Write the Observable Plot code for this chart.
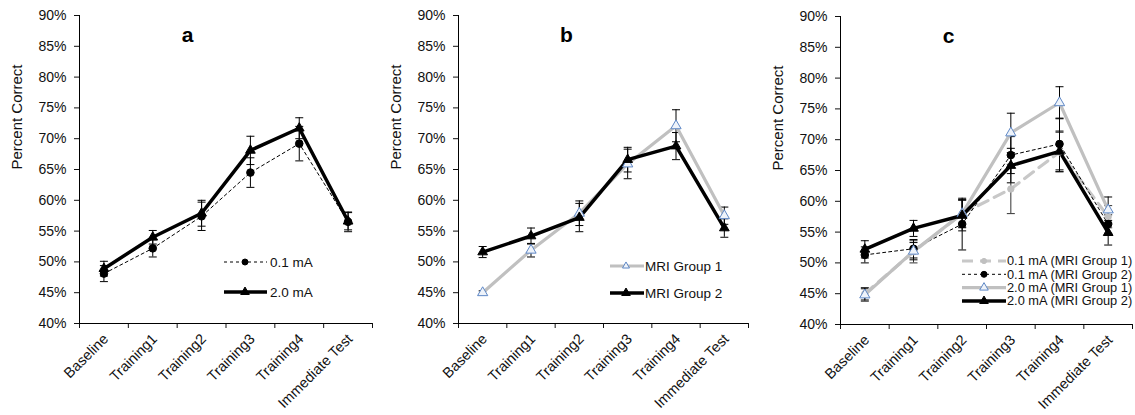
<!DOCTYPE html>
<html>
<head>
<meta charset="utf-8">
<script src="https://cdn.jsdelivr.net/npm/d3@7"></script>
<script src="https://cdn.jsdelivr.net/npm/@observablehq/plot@0.6"></script>
<style>
  html, body { margin: 0; padding: 0; background: #fff; }
  #wrap { position: relative; width: 1135px; height: 415px; overflow: hidden; font-family: "Liberation Sans", Arial, sans-serif; }
  .panel { position: absolute; top: 0; }
  .legend { position: absolute; left: 0; top: 0; overflow: visible; }
</style>
</head>
<body>
<div id="wrap"></div>
<script>
// ---------- data ----------
const categories = ["Baseline", "Training1", "Training2", "Training3", "Training4", "Immediate Test"];
const yTicks = [40, 45, 50, 55, 60, 65, 70, 75, 80, 85, 90];

// Panel a
const a_01mA = [48.1, 52.2, 57.4, 64.5, 69.2, 56.5];
const a_01mA_err = [1.3, 1.4, 2.3, 2.4, 2.8, 1.6];
const a_20mA = [48.9, 54.0, 57.9, 68.1, 71.7, 56.6];
const a_20mA_err = [1.2, 1.1, 2.1, 2.3, 1.7, 1.4];

// Panel b
const b_group1 = [45.0, 51.9, 57.9, 65.9, 72.1, 57.5];
const b_group1_err = [0.3, 1.1, 2.0, 2.4, 2.6, 1.4];
const b_group2 = [51.6, 54.2, 57.2, 66.6, 68.8, 55.5];
const b_group2_err = [0.9, 1.3, 2.3, 2.0, 2.2, 1.5];

// Panel c
const c_01mA_g1 = [45.0, 51.8, 58.0, 62.0, 68.0, 57.5];
const c_01mA_g1_err = [1.0, 1.8, 2.3, 4.0, 3.2, 1.8];
const c_01mA_g2 = [51.3, 52.3, 56.3, 67.5, 69.3, 56.3];
const c_01mA_g2_err = [1.3, 1.5, 4.2, 3.0, 4.2, 1.5];
const c_20mA_g1 = [44.8, 51.9, 58.0, 71.1, 76.0, 58.6];
const c_20mA_g1_err = [1.0, 1.4, 2.2, 3.2, 2.6, 2.1];
const c_20mA_g2 = [52.2, 55.6, 57.7, 65.8, 68.1, 54.9];
const c_20mA_g2_err = [1.4, 1.3, 2.5, 2.8, 3.3, 2.0];

// ---------- styles ----------
const FONT = '"Liberation Sans", Arial, sans-serif';
const S = {
  solidBlack: {stroke: "#000", strokeWidth: 3.5, dash: null, symbol: "triangle", fill: "#000", mstroke: "#000", r: 3.6},
  dashBlack: {stroke: "#000", strokeWidth: 1, dash: "3,3", symbol: "circle", fill: "#000", mstroke: "#000", r: 3.8},
  solidGray: {stroke: "#c0c0c0", strokeWidth: 3.2, dash: null, symbol: "triangle", fill: "#eef3fa", mstroke: "#5f88c6", r: 3.8},
  dashGray: {stroke: "#c8c8c8", strokeWidth: 3.2, dash: "11,7", symbol: "circle", fill: "#c0c0c0", mstroke: "#c0c0c0", r: 3.2}
};

const cap = {draw(context) { context.moveTo(-4, 0); context.lineTo(4, 0); }};

function rows(values, errs) {
  return categories.map((c, i) => ({x: i + 0.5, cat: c, v: values[i], lo: values[i] - errs[i], hi: values[i] + errs[i]}));
}

function panel({left, width, marginLeft, marginRight, marginTop, marginBottom, title, series}) {
  const height = 415;
  const errMarks = [];
  const lineMarks = [];
  for (const s of series) {
    const d = rows(s.values, s.errs);
    const st = s.style;
    errMarks.push(
      Plot.ruleX(d, {x: "x", y1: "lo", y2: "hi", stroke: s.errColor || "#000", strokeWidth: 1}),
      Plot.dot(d, {x: "x", y: "lo", symbol: cap, r: 4, stroke: s.errColor || "#000", fill: "none", strokeWidth: 1}),
      Plot.dot(d, {x: "x", y: "hi", symbol: cap, r: 4, stroke: s.errColor || "#000", fill: "none", strokeWidth: 1})
    );
    lineMarks.push(
      Plot.line(d, {x: "x", y: "v", stroke: st.stroke, strokeWidth: st.strokeWidth, strokeDasharray: st.dash || undefined, strokeLinejoin: "miter"})
    );
  }
  const dotMarks = series.map(s => {
    const st = s.style;
    return Plot.dot(rows(s.values, s.errs), {x: "x", y: "v", symbol: st.symbol, r: st.r, fill: st.fill, stroke: st.mstroke, strokeWidth: 1});
  });
  const chart = Plot.plot({
    width, height, marginLeft, marginRight, marginTop, marginBottom,
    style: {fontFamily: FONT, fontSize: "14px", color: "#111", background: "transparent", overflow: "visible"},
    x: {domain: [0, categories.length], axis: null},
    y: {domain: [40, 90], axis: null},
    marks: [
      Plot.axisY({ticks: yTicks, tickFormat: d => d + "%", tickSize: 5, tickPadding: 8, label: null, fontSize: 14}),
      Plot.axisX({ticks: d3.range(0, categories.length + 1), tickFormat: () => "", tickSize: 5, label: null}),
      Plot.axisX({ticks: categories.map((c, i) => i + 0.5), tickFormat: d => categories[Math.floor(d)], tickSize: 0, tickPadding: 13, dx: 2, tickRotate: -45, label: null, fontSize: 14.5}),
      Plot.ruleX([0], {stroke: "#000", strokeWidth: 1}),
      Plot.ruleY([40], {stroke: "#000", strokeWidth: 1}),
      ...errMarks,
      ...lineMarks,
      ...dotMarks,
      Plot.text(["Percent Correct"], {frameAnchor: "left", rotate: -90, dx: -62, fontSize: 15, fill: "#111"}),
      Plot.text([title], {frameAnchor: "top-left", dx: 108, dy: 20, fontSize: 21, fontWeight: "bold", textAnchor: "middle", lineAnchor: "middle", fill: "#000"})
    ]
  });
  const div = document.createElement("div");
  div.className = "panel";
  div.style.left = left + "px";
  div.appendChild(chart);
  document.getElementById("wrap").appendChild(div);
}

function legend({x0, x1, cx, tx, rows: ys, entries, fontSize}) {
  const svg = d3.select("#wrap").append("svg").attr("class", "legend").attr("width", 1135).attr("height", 415);
  entries.forEach((e, k) => {
    const y = ys[k];
    const st = e.style;
    svg.append("line").attr("x1", x0).attr("x2", x1).attr("y1", y).attr("y2", y)
      .attr("stroke", st.stroke).attr("stroke-width", st.strokeWidth)
      .attr("stroke-dasharray", st.dash || null);
    const sym = st.symbol === "triangle" ? d3.symbolTriangle : d3.symbolCircle;
    const r = e.mr || st.r;
    svg.append("path").attr("d", d3.symbol(sym, Math.PI * r * r)())
      .attr("transform", `translate(${cx},${y})`)
      .attr("fill", st.fill).attr("stroke", st.mstroke).attr("stroke-width", 1);
    svg.append("text").attr("x", tx).attr("y", y).attr("dy", "0.35em")
      .attr("font-family", FONT).attr("font-size", fontSize).attr("fill", "#111")
      .text(e.label);
  });
}

panel({left: 0, width: 378, marginLeft: 79, marginRight: 6, marginTop: 15, marginBottom: 92, title: "a",
  series: [
    {values: a_01mA, errs: a_01mA_err, style: S.dashBlack},
    {values: a_20mA, errs: a_20mA_err, style: S.solidBlack}
  ]});
panel({left: 380, width: 375, marginLeft: 78, marginRight: 7, marginTop: 15, marginBottom: 92, title: "b",
  series: [
    {values: b_group1, errs: b_group1_err, style: S.solidGray},
    {values: b_group2, errs: b_group2_err, style: S.solidBlack}
  ]});
panel({left: 760, width: 375, marginLeft: 80, marginRight: 3, marginTop: 16, marginBottom: 91, title: "c",
  series: [
    {values: c_01mA_g1, errs: c_01mA_g1_err, style: S.dashGray, errColor: "#333"},
    {values: c_01mA_g2, errs: c_01mA_g2_err, style: S.dashBlack},
    {values: c_20mA_g1, errs: c_20mA_g1_err, style: S.solidGray},
    {values: c_20mA_g2, errs: c_20mA_g2_err, style: S.solidBlack}
  ]});

legend({x0: 224, x1: 267, cx: 245, tx: 270, rows: [262, 292], fontSize: 13.5,
  entries: [{label: "0.1 mA", style: S.dashBlack, mr: 3}, {label: "2.0 mA", style: S.solidBlack, mr: 3.2}]});
legend({x0: 610, x1: 644, cx: 626, tx: 645, rows: [266, 293], fontSize: 13.5,
  entries: [{label: "MRI Group 1", style: S.solidGray, mr: 2.6}, {label: "MRI Group 2", style: S.solidBlack, mr: 3.2}]});
legend({x0: 962, x1: 1006, cx: 984, tx: 1007, rows: [261, 274.3, 287.6, 301], fontSize: 12.8,
  entries: [
    {label: "0.1 mA (MRI Group 1)", style: S.dashGray, mr: 2.6},
    {label: "0.1 mA (MRI Group 2)", style: S.dashBlack, mr: 3},
    {label: "2.0 mA (MRI Group 1)", style: S.solidGray, mr: 3.2},
    {label: "2.0 mA (MRI Group 2)", style: S.solidBlack, mr: 3.2}
  ]});
</script>
</body>
</html>
